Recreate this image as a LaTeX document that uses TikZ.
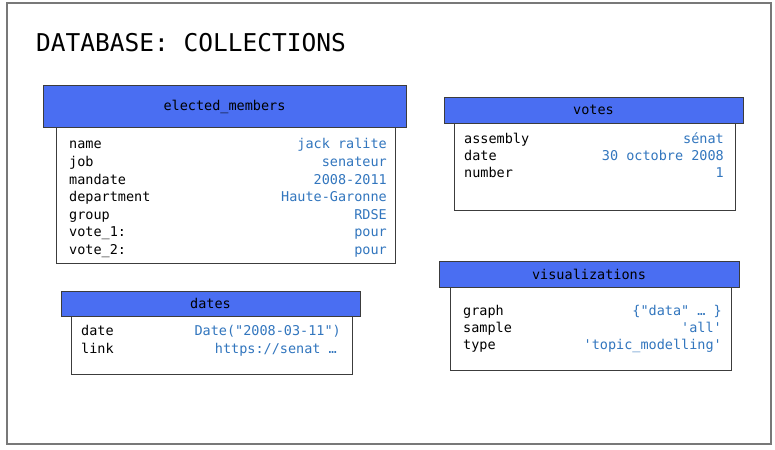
\documentclass[tikz,border=0pt]{standalone}
\usepackage{fontspec}
\setmainfont{DejaVu Sans Mono}[Ligatures=TeXOff]
\definecolor{hdrblue}{RGB}{74,110,242}
\definecolor{valblue}{RGB}{50,118,190}
\definecolor{framegray}{RGB}{120,120,120}
\definecolor{boxline}{RGB}{60,60,60}
\newcommand{\dq}{\symbol{34}}
\newcommand{\sq}{\symbol{39}}
\tikzset{
  hdr/.style={draw=boxline, line width=0.9pt, fill=hdrblue, inner sep=0pt, font=\fontsize{13.5}{16}\selectfont},
  hdrtext/.style={anchor=base, inner sep=0pt, font=\fontsize{13.5}{16}\selectfont},
  bodybox/.style={draw=boxline, line width=0.9pt, fill=white},
  lbl/.style={anchor=base west, inner sep=0pt, font=\fontsize{13.5}{16}\selectfont},
  val/.style={anchor=base east, inner sep=0pt, text=valblue, font=\fontsize{13.5}{16}\selectfont},
}
\begin{document}
\begin{tikzpicture}[x=1pt,y=-1pt]
\useasboundingbox (0,0) rectangle (775,449);
\draw[framegray, line width=1.8pt] (7,3) rectangle (771,444);
\node[anchor=base west, inner sep=0pt, font=\fontsize{24.5}{28}\selectfont] (title) at (36,52) {DATABASE: COLLECTIONS};

% elected_members
\draw[bodybox] (56,127) rectangle (395,263);
\draw[hdr] (43,85) rectangle (406,127);
\node[hdrtext] (emh) at (224.5,110.5) {elected\_members};
\node[lbl] (em1) at (69,149) {name};
\node[lbl] (em2) at (69,166.5) {job};
\node[lbl] (em3) at (69,184) {mandate};
\node[lbl] (em4) at (69,201.5) {department};
\node[lbl] (em5) at (69,219) {group};
\node[lbl] (em6) at (69,236.5) {vote\_1:};
\node[lbl] (em7) at (69,254) {vote\_2:};
\node[val] (ev1) at (387,149) {jack ralite};
\node[val] (ev2) at (387,166.5) {senateur};
\node[val] (ev3) at (387,184) {2008-2011};
\node[val] (ev4) at (387,201.5) {Haute-Garonne};
\node[val] (ev5) at (387,219) {RDSE};
\node[val] (ev6) at (387,236.5) {pour};
\node[val] (ev7) at (387,254) {pour};

% votes
\draw[bodybox] (454,123) rectangle (735,210);
\draw[hdr] (444,97) rectangle (743,123);
\node[hdrtext] (vh) at (593.5,115) {votes};
\node[lbl] (vo1) at (464,143) {assembly};
\node[lbl] (vo2) at (464,160.5) {date};
\node[lbl] (vo3) at (464,177.5) {number};
\node[val] (vv1) at (724,143) {sénat};
\node[val] (vv2) at (724,160.5) {30 octobre 2008};
\node[val] (vv3) at (724,177.5) {1};

% dates
\draw[bodybox] (71,316) rectangle (352,374);
\draw[hdr] (61,291) rectangle (360,316);
\node[hdrtext] (dh) at (210.5,308) {dates};
\node[lbl] (d1) at (81,335.5) {date};
\node[lbl] (d2) at (81,353) {link};
\node[val] (dv1) at (341,335.5) {Date(\dq2008-03-11\dq)};
\node[val] (dv2) at (337,353) {https://senat \ldots};

% visualizations
\draw[bodybox] (450,287) rectangle (731,370);
\draw[hdr] (439,261) rectangle (739,287);
\node[hdrtext] (vzh) at (589,279) {visualizations};
\node[lbl] (z1) at (463,315) {graph};
\node[lbl] (z2) at (463,332) {sample};
\node[lbl] (z3) at (463,349) {type};
\node[val] (zv1) at (722,315) {\{\dq data\dq\ \ldots\ \}};
\node[val] (zv2) at (722,332) {\sq all\sq};
\node[val] (zv3) at (722,349) {\sq topic\_modelling\sq};
\end{tikzpicture}
\end{document}
